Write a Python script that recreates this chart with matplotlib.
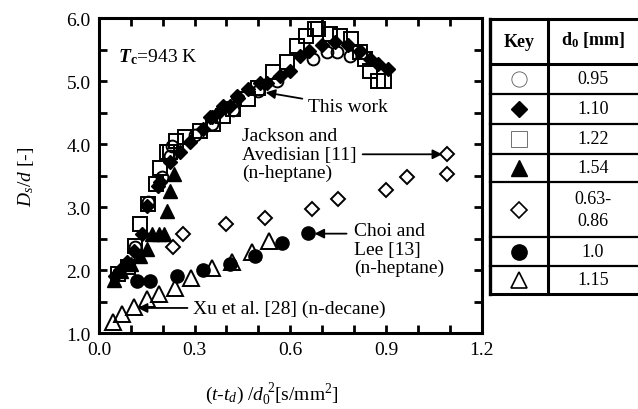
import matplotlib as mpl
import matplotlib.pyplot as plt
import numpy as np

mpl.rcParams['font.family'] = 'Liberation Serif'
mpl.rcParams['mathtext.fontset'] = 'custom'
mpl.rcParams['mathtext.rm'] = 'Liberation Serif'
mpl.rcParams['mathtext.it'] = 'Liberation Serif:italic'
mpl.rcParams['mathtext.bf'] = 'Liberation Serif:bold'
mpl.rcParams['mathtext.bfit'] = 'Liberation Serif:italic:bold'

## this work, d0 = 0.95 mm (open circles)
x_095 = [0.113, 0.154, 0.197, 0.222, 0.228, 0.30, 0.354, 0.42, 0.50, 0.557, 0.67, 0.714, 0.745, 0.786]
y_095 = [2.37, 3.08, 3.48, 3.81, 3.97, 4.15, 4.32, 4.55, 4.85, 5.00, 5.35, 5.46, 5.46, 5.40]

## this work, d0 = 1.10 mm (filled diamonds)
x_110 = [0.05, 0.066, 0.087, 0.11, 0.134, 0.15, 0.185, 0.19, 0.222, 0.254, 0.285, 0.326, 0.348,
         0.354, 0.38, 0.39, 0.41, 0.432, 0.436, 0.468, 0.505, 0.526, 0.567, 0.598, 0.63, 0.66,
         0.70, 0.74, 0.78, 0.82, 0.85, 0.875, 0.906]
y_110 = [1.90, 2.00, 2.13, 2.30, 2.57, 3.02, 3.33, 3.40, 3.71, 3.87, 4.03, 4.24, 4.44,
         4.44, 4.52, 4.60, 4.60, 4.77, 4.74, 4.87, 4.98, 4.98, 5.08, 5.16, 5.40, 5.48,
         5.58, 5.62, 5.58, 5.48, 5.35, 5.27, 5.19]

## this work, d0 = 1.22 mm (open squares)
x_122 = [0.06, 0.09, 0.113, 0.128, 0.154, 0.18, 0.19, 0.212, 0.222, 0.243, 0.27, 0.316, 0.357,
         0.39, 0.42, 0.468, 0.50, 0.545, 0.59, 0.62, 0.65, 0.677, 0.687, 0.724, 0.755, 0.79,
         0.818, 0.835, 0.85, 0.875, 0.895]
y_122 = [1.94, 2.05, 2.38, 2.73, 3.05, 3.37, 3.63, 3.87, 3.87, 4.05, 4.12, 4.21, 4.32,
         4.45, 4.56, 4.72, 4.90, 5.14, 5.30, 5.56, 5.72, 5.83, 5.83, 5.75, 5.72, 5.67,
         5.46, 5.35, 5.16, 5.00, 5.00]

## this work, d0 = 1.54 mm (filled triangles)
x_154 = [0.047, 0.07, 0.10, 0.13, 0.15, 0.166, 0.188, 0.204, 0.213, 0.222, 0.235]
y_154 = [1.85, 1.99, 2.10, 2.22, 2.33, 2.57, 2.57, 2.57, 2.94, 3.26, 3.53]

## Jackson and Avedisian (open diamonds)
x_jack = [0.232, 0.263, 0.40, 0.52, 0.667, 0.75, 0.90, 0.965, 1.09, 1.09]
y_jack = [2.37, 2.57, 2.73, 2.83, 2.97, 3.13, 3.27, 3.48, 3.84, 3.52]

## Choi and Lee (filled circles)
x_choi = [0.119, 0.16, 0.244, 0.326, 0.41, 0.49, 0.575, 0.655]
y_choi = [1.83, 1.83, 1.90, 2.00, 2.10, 2.23, 2.43, 2.59]

## Xu et al. (open triangles)
x_xu = [0.044, 0.072, 0.11, 0.15, 0.188, 0.238, 0.29, 0.354, 0.417, 0.48, 0.533]
y_xu = [1.17, 1.30, 1.41, 1.54, 1.62, 1.71, 1.87, 2.03, 2.13, 2.29, 2.46]

keys = ['0.95', '1.10', '1.22', '1.54', '0.63-\n0.86', '1.0', '1.15']

fig = plt.figure(figsize=(6.38, 4.10), dpi=100)
ax = fig.add_axes([0.155, 0.185, 0.6, 0.768])

ew = 1.4
ax.plot(x_095, y_095, 'o', ms=8.5, mfc='none', mec='k', mew=ew)
ax.plot(x_122, y_122, 's', ms=9.5, mfc='none', mec='k', mew=ew)
ax.plot(x_110, y_110, 'D', ms=7.5, mfc='k', mec='k')
ax.plot(x_154, y_154, '^', ms=9.5, mfc='k', mec='k')
ax.plot(x_jack, y_jack, 'D', ms=7.5, mfc='white', mec='k', mew=ew)
ax.plot(x_choi, y_choi, 'o', ms=9.5, mfc='k', mec='k')
ax.plot(x_xu, y_xu, '^', ms=12, mfc='none', mec='k', mew=ew)

ax.set_xlim(0, 1.2)
ax.set_ylim(1.0, 6.0)
ax.set_xticks(np.arange(0, 1.21, 0.3))
ax.set_xticks(np.arange(0, 1.21, 0.1), minor=True)
ax.set_yticks(np.arange(1, 6.01, 1.0))
ax.set_yticks(np.arange(1, 6.01, 0.5), minor=True)
ax.xaxis.set_major_formatter(mpl.ticker.FormatStrFormatter('%.1f'))
ax.yaxis.set_major_formatter(mpl.ticker.FormatStrFormatter('%.1f'))
ax.tick_params(which='both', direction='in', top=True, right=True, width=2, labelsize=14, pad=6)
ax.tick_params(which='major', length=6)
ax.tick_params(which='minor', length=6)
for s in ax.spines.values():
    s.set_linewidth(2.2)

ax.set_xlabel(r'$(t$-$t_d)$ /$d_0^{\ 2}$[s/mm$^2$]', fontsize=14)
ax.xaxis.set_label_coords(0.452, -0.15)
ax.set_ylabel(r'$D_s/d$ [-]', fontsize=14, labelpad=22)

ax.text(0.06, 5.4, r'$\mathbfit{T}_{\mathbf{c}}$=943 K', fontsize=14, va='center')

arr = dict(arrowstyle='-|>', color='k', lw=1.3, mutation_scale=14)
ax.annotate('This work', xy=(0.514, 4.83), xytext=(0.655, 4.6), fontsize=14,
            va='center', arrowprops=arr)
ax.annotate('Jackson and\nAvedisian [11]\n(n-heptane)', xy=(1.085, 3.84), xytext=(0.45, 3.84),
            fontsize=14, va='center', linespacing=1.1, arrowprops=arr)
ax.text(0.80, 2.33, 'Choi and\nLee [13]\n(n-heptane)', fontsize=14, va='center', linespacing=1.1)
ax.annotate('', xy=(0.667, 2.58), xytext=(0.785, 2.58), arrowprops=arr)
ax.annotate('Xu et al. [28] (n-decane)', xy=(0.113, 1.40), xytext=(0.295, 1.40), fontsize=14,
            va='center', arrowprops=arr)

## key table
tb = fig.add_axes([490 / 638, 1 - 295 / 410, 150 / 638, 275 / 410])
tb.set_xlim(0, 150)
tb.set_ylim(275, 0)
tb.axis('off')
rows = [0, 45, 75, 105, 135, 163, 218, 247, 275]
tb.plot([0, 0], [0, 275], color='k', lw=2.4, clip_on=False)
tb.plot([58, 58], [0, 275], color='k', lw=2.2, clip_on=False)
for r in rows:
    tb.plot([0, 150], [r, r], color='k', lw=2.2 if r in (0, 45, 275) else 1.6, clip_on=False)

tb.text(29, 22.5, 'Key', fontsize=13, fontweight='bold', ha='center', va='center')
tb.text(103, 20, r'$\mathbf{d}_{\mathbf{0}}$ [mm]', fontsize=13, fontweight='bold', ha='center', va='center')
styles = [('o', 'none', 0.6), ('D', 'k', 1.0), ('s', 'none', 0.6), ('^', 'k', 1.0),
          ('D', 'none', 1.2), ('o', 'k', 1.0), ('^', 'none', 1.2)]
for i, (m, fc, lw) in enumerate(styles):
    yc = (rows[i + 1] + rows[i + 2]) / 2
    tb.plot(29, yc, m, ms=11 if m != 'D' else 8.5, mfc=fc, mec='k' if fc != 'none' or lw > 1 else '0.35',
            mew=lw, clip_on=False)
    tb.text(103, yc, keys[i], fontsize=13, ha='center', va='center', linespacing=1.4)

fig.savefig('out.png', dpi=100)
